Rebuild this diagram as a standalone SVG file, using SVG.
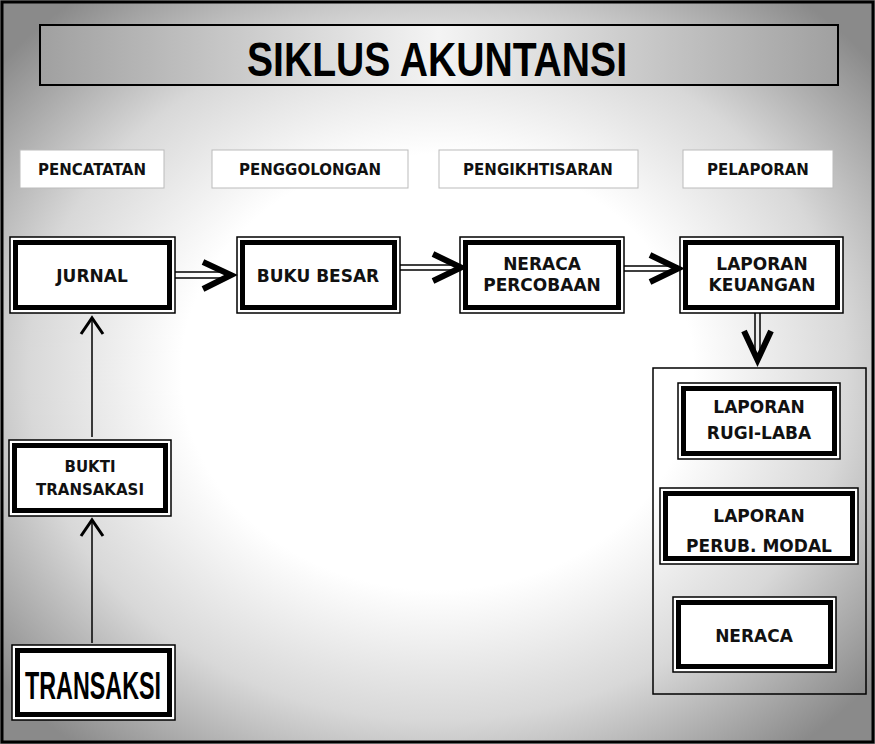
<svg xmlns="http://www.w3.org/2000/svg" width="875" height="744" viewBox="0 0 875 744">
<defs>
<radialGradient id="bg" cx="0.5" cy="0.5" r="0.65">
<stop offset="0.45" stop-color="#ffffff"/>
<stop offset="0.72" stop-color="#d8d8d8"/>
<stop offset="1" stop-color="#8a8a8a"/>
</radialGradient>
<linearGradient id="tg" x1="0" x2="1" y1="0" y2="0">
<stop offset="0" stop-color="#a0a0a0"/>
<stop offset="0.5" stop-color="#f4f4f4"/>
<stop offset="1" stop-color="#a0a0a0"/>
</linearGradient>
<style>
.o{fill:#fff;stroke:#000;stroke-width:1.5}
.i{fill:#fff;stroke:#000;stroke-width:5}
.h{fill:#fff;stroke:#bbb;stroke-width:1}
.t{font-family:"DejaVu Sans",sans-serif;font-weight:bold;font-size:17px;text-anchor:middle;fill:#111}
.s{font-family:"DejaVu Sans",sans-serif;font-weight:bold;font-size:15px;text-anchor:middle;fill:#111}
.c{font-family:"Liberation Sans",sans-serif;font-weight:bold;text-anchor:middle;fill:#000}
.l{stroke:#000;stroke-width:1.5;fill:none}
.hd{stroke:#000;stroke-width:6;fill:none;stroke-linejoin:miter}
</style>
</defs>
<rect x="0" y="0" width="875" height="744" fill="url(#bg)"/>
<rect x="2" y="2" width="871" height="740" fill="none" stroke="#000" stroke-width="3"/>
<g id="title"><rect x="40" y="25" width="798" height="60" fill="url(#tg)" stroke="#000" stroke-width="2"/>
<text class="c" x="437" y="76" font-size="48" textLength="380" lengthAdjust="spacingAndGlyphs">SIKLUS AKUNTANSI</text></g>
<g id="h1"><rect class="h" x="20" y="150" width="144" height="38"/><text class="s" x="92" y="175">PENCATATAN</text></g>
<g id="h2"><rect class="h" x="212" y="150" width="196" height="38"/><text class="s" x="310" y="175">PENGGOLONGAN</text></g>
<g id="h3"><rect class="h" x="439" y="150" width="199" height="38"/><text class="s" x="538" y="175">PENGIKHTISARAN</text></g>
<g id="h4"><rect class="h" x="683" y="150" width="150" height="38"/><text class="s" x="758" y="175">PELAPORAN</text></g>
<g id="container"><rect x="653" y="368" width="213" height="326" fill="none" stroke="#000" stroke-width="1.5"/></g>
<g id="jurnal"><rect class="o" x="10" y="237" width="165" height="76"/><rect class="i" x="15.5" y="242.5" width="154" height="65"/><text class="t" x="92" y="282">JURNAL</text></g>
<g id="bukubesar"><rect class="o" x="237" y="237" width="163" height="76"/><rect class="i" x="242.5" y="242.5" width="152" height="65"/><text class="t" x="318" y="282">BUKU BESAR</text></g>
<g id="neraca-percobaan"><rect class="o" x="460" y="237" width="164" height="76"/><rect class="i" x="465.5" y="242.5" width="153" height="65"/><text class="t" x="542" y="270">NERACA</text><text class="t" x="542" y="291">PERCOBAAN</text></g>
<g id="laporan-keuangan"><rect class="o" x="680" y="237" width="163" height="76"/><rect class="i" x="685.5" y="242.5" width="152" height="65"/><text class="t" x="762" y="270">LAPORAN</text><text class="t" x="762" y="291">KEUANGAN</text></g>
<g id="rugilaba"><rect class="o" x="678" y="383" width="162" height="76"/><rect class="i" x="683.5" y="388.5" width="151" height="65"/><text class="t" x="759" y="413">LAPORAN</text><text class="t" x="759" y="439">RUGI-LABA</text></g>
<g id="modal"><rect class="o" x="660" y="488" width="198" height="76"/><rect class="i" x="665.5" y="493.5" width="187" height="65"/><text class="t" x="759" y="522">LAPORAN</text><text class="t" x="759" y="552">PERUB. MODAL</text></g>
<g id="neraca"><rect class="o" x="673" y="597" width="163" height="75"/><rect class="i" x="678.5" y="602.5" width="152" height="64"/><text class="t" x="754" y="642">NERACA</text></g>
<g id="bukti"><rect class="o" x="9" y="440" width="162" height="76"/><rect class="i" x="14.5" y="445.5" width="151" height="65"/><text class="s" x="90" y="472">BUKTI</text><text class="s" x="90" y="495">TRANSAKASI</text></g>
<g id="transaksi"><rect class="o" x="12" y="645" width="163" height="75"/><rect class="i" x="17.5" y="650.5" width="152" height="64"/><text class="c" x="93" y="699" font-size="38" textLength="136" lengthAdjust="spacingAndGlyphs">TRANSAKSI</text></g>
<g id="connectors">
<path class="l" d="M175 272H228M175 278H228"/><path class="hd" d="M203 262L231 275L203 289"/>
<path class="l" d="M400 265H460M400 270H460"/><path class="hd" d="M433 254L461 267.5L433 281"/>
<path class="l" d="M624 266H677M624 271H677"/><path class="hd" d="M650 255L678 268.5L650 282"/>
<path class="l" d="M755 313V358M760 313V358"/><path class="hd" d="M744 331L757.5 360L771 331"/>
<path class="l" d="M92 437V318"/><path class="hd" d="M81 334L92 318L103 334" style="stroke-width:3"/>
<path class="l" d="M92 643V520"/><path class="hd" d="M81 536L92 520L103 536" style="stroke-width:3"/>
</g>
</svg>
